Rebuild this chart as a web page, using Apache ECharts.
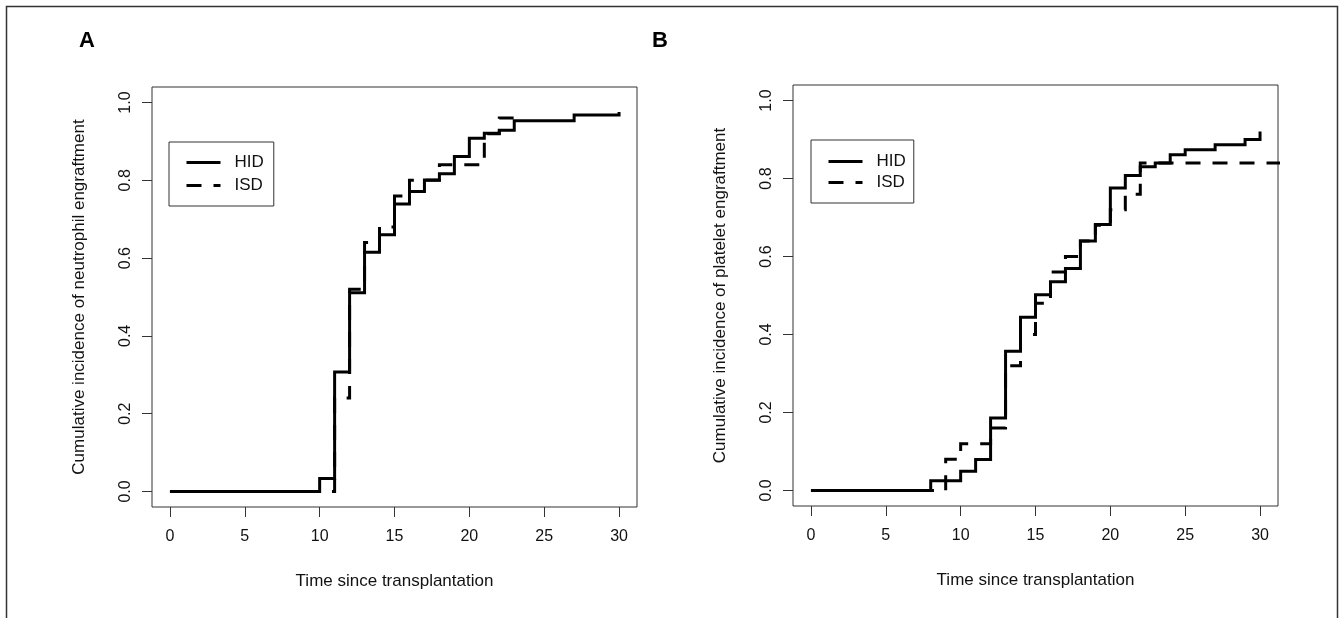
<!DOCTYPE html>
<html>
<head>
<meta charset="utf-8">
<script src="https://cdn.jsdelivr.net/npm/echarts@6/dist/echarts.min.js"></script>
<style>
html,body{margin:0;padding:0;background:#fff;}
#c{width:1343px;height:618px;}
</style>
</head>
<body>
<div id="c"></div>
<script>
// ---- data ----
const tickX = [0, 5, 10, 15, 20, 25, 30];
const tickY = [0, 0.2, 0.4, 0.6, 0.8, 1.0];

// Panel A: neutrophil engraftment
const hidA_t = [0, 10, 11, 12, 13, 14, 15, 16, 17, 18, 19, 20, 21, 22, 23, 27, 30];
const hidA_v = [0, 0.033, 0.307, 0.511, 0.615, 0.660, 0.739, 0.771, 0.801, 0.817, 0.861, 0.908, 0.921, 0.929, 0.953, 0.968, 0.976];
const isdA_t = [0, 11, 12, 13, 14, 15, 16, 18, 21, 22, 23];
const isdA_v = [0, 0.24, 0.52, 0.64, 0.68, 0.76, 0.80, 0.84, 0.92, 0.96, 0.96];

// Panel B: platelet engraftment
const hidB_t = [0, 8, 10, 11, 12, 13, 14, 15, 16, 17, 18, 19, 20, 21, 22, 23, 24, 25, 27, 29, 30];
const hidB_v = [0, 0.025, 0.049, 0.079, 0.186, 0.357, 0.444, 0.502, 0.535, 0.569, 0.640, 0.682, 0.776, 0.808, 0.830, 0.840, 0.861, 0.874, 0.887, 0.900, 0.921];
const isdB_t = [0, 9, 10, 12, 13, 14, 15, 16, 17, 18, 19, 20, 21, 22, 32];
const isdB_v = [0, 0.08, 0.12, 0.16, 0.32, 0.40, 0.48, 0.56, 0.60, 0.64, 0.68, 0.72, 0.76, 0.84, 0.84];

const seriesNames = ['HID', 'ISD'];
const panelLetters = ['A', 'B'];
const xTitle = 'Time since transplantation';
const yTitles = ['Cumulative incidence of neutrophil engraftment', 'Cumulative incidence of platelet engraftment'];

// ---- build ----
const FONT = 'Liberation Sans, Arial, Helvetica, sans-serif';
const zip = (t, v) => t.map((x, i) => [x, v[i]]);

function xAxis(gi) {
  return {
    type: 'value', gridIndex: gi, min: -1.2, max: 31.2,
    axisLine: { show: false, onZero: false },
    axisTick: { show: true, inside: false, length: 10, customValues: tickX, lineStyle: { color: '#333', width: 1 } },
    axisLabel: { customValues: tickX, fontSize: 16, color: '#111', fontFamily: FONT, margin: 22 },
    splitLine: { show: false },
    name: xTitle, nameLocation: 'middle', nameGap: 66,
    nameTextStyle: { fontSize: 17, color: '#111', fontFamily: FONT }
  };
}
function yAxis(gi) {
  return {
    type: 'value', gridIndex: gi, min: -0.04, max: 1.04,
    axisLine: { show: false, onZero: false },
    axisTick: { show: true, inside: false, length: 10, customValues: tickY, lineStyle: { color: '#333', width: 1 } },
    axisLabel: { customValues: tickY, rotate: 90, fontSize: 16, color: '#111', fontFamily: FONT, margin: 18,
      formatter: v => v.toFixed(1) },
    splitLine: { show: false },
    name: yTitles[gi], nameLocation: 'middle', nameGap: 64, nameRotate: 90,
    nameTextStyle: { fontSize: 17, color: '#111', fontFamily: FONT }
  };
}
function line(name, gi, data, dashed) {
  return {
    name: name, type: 'line', xAxisIndex: gi, yAxisIndex: gi, data: data,
    step: 'end', symbol: 'none', showSymbol: false, clip: true, silent: true,
    lineStyle: { color: '#000', width: 3, type: dashed ? [15, 12] : 'solid', cap: 'butt', join: 'miter' },
    itemStyle: { color: '#000' }
  };
}
function legend(left, top, gap, pad) {
  return {
    orient: 'vertical', left: left, top: top, data: seriesNames,
    itemWidth: 34, itemHeight: 14, itemGap: gap, padding: pad,
    borderColor: '#333', borderWidth: 1, borderRadius: 0, selectedMode: false,
    itemStyle: { color: 'rgba(0,0,0,0)', borderWidth: 0, opacity: 0 },
    lineStyle: { width: 3, color: '#000' },
    textStyle: { fontSize: 17, color: '#111', fontFamily: FONT, padding: [0, 0, 0, 9] }
  };
}

const chart = echarts.init(document.getElementById('c'), null, { renderer: 'canvas' });
chart.setOption({
  animation: false,
  backgroundColor: '#fff',
  grid: [
    { left: 152, top: 87, width: 485, height: 420, show: true, borderColor: '#333', borderWidth: 1, backgroundColor: 'transparent' },
    { left: 793, top: 85, width: 485, height: 421, show: true, borderColor: '#333', borderWidth: 1, backgroundColor: 'transparent' }
  ],
  xAxis: [xAxis(0), xAxis(1)],
  yAxis: [yAxis(0), yAxis(1)],
  legend: [
    legend(169, 142, 6, [12, 10, 12, 16]),
    legend(811, 140, 4, [13, 8, 12, 16])
  ],
  series: [
    line(seriesNames[0], 0, zip(hidA_t, hidA_v), false),
    line(seriesNames[1], 0, zip(isdA_t, isdA_v), true),
    line(seriesNames[0], 1, zip(hidB_t, hidB_v), false),
    line(seriesNames[1], 1, zip(isdB_t, isdB_v), true)
  ],
  graphic: [
    { type: 'rect', shape: { x: 6.5, y: 6.5, width: 1331, height: 700 }, style: { fill: 'none', stroke: '#333', lineWidth: 1.5 }, silent: true },
    { type: 'text', left: 79, top: 30, style: { text: panelLetters[0], font: 'bold 22px ' + FONT, fill: '#000' } },
    { type: 'text', left: 652, top: 30, style: { text: panelLetters[1], font: 'bold 22px ' + FONT, fill: '#000' } }
  ]
});
</script>
</body>
</html>
